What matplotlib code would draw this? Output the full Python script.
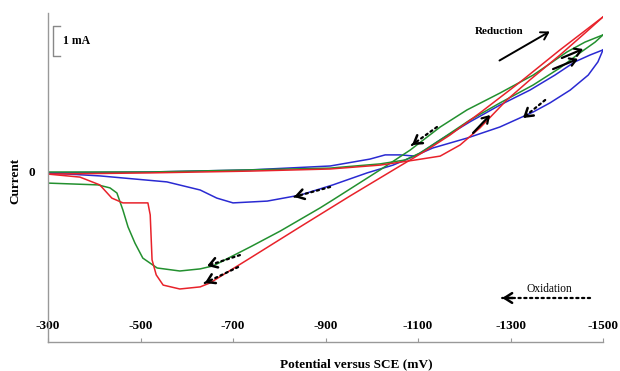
import matplotlib
matplotlib.use("Agg")
import matplotlib.pyplot as plt

# ---- data (potential in mV, current in mA) ----
red_fwd_E = [-300, -521, -737, -910, -1018, -1094, -1148, -1191, -1234, -1292, -1342, -1407, -1461, -1500]
red_fwd_I = [-0.07, -0.03, 0.03, 0.10, 0.23, 0.40, 0.53, 0.90, 1.47, 2.40, 3.07, 3.90, 4.63, 5.17]
red_rev_E = [-1500, -1407, -1321, -1234, -1169, -1126, -1094, -1061, -953, -845, -737, -650, -629, -585,
             -549, -534, -525, -521, -516, -462, -438, -412, -369, -300]
red_rev_I = [5.17, 4.07, 3.00, 1.97, 1.23, 0.80, 0.50, 0.20, -0.80, -1.83, -2.87, -3.70, -3.83, -3.90,
             -3.77, -3.43, -2.93, -1.43, -1.03, -1.03, -0.87, -0.43, -0.17, -0.07]

green_fwd_E = [-300, -521, -737, -910, -1018, -1072, -1104, -1148, -1212, -1277, -1349, -1407, -1450, -1483, -1500]
green_fwd_I = [0.0, 0.0, 0.07, 0.13, 0.27, 0.40, 0.63, 1.07, 1.73, 2.30, 2.90, 3.47, 3.97, 4.33, 4.57]
green_rev_E = [-1500, -1461, -1422, -1349, -1277, -1206, -1148, -1083, -1018, -916, -888, -802, -737, -657,
               -629, -585, -536, -505, -488, -473, -462, -449, -434, -408, -300]
green_rev_I = [4.57, 4.33, 4.00, 3.23, 2.63, 2.07, 1.50, 0.73, 0.07, -0.93, -1.20, -1.97, -2.50, -3.13,
               -3.23, -3.30, -3.20, -2.87, -2.37, -1.83, -1.27, -0.70, -0.53, -0.43, -0.37]

blue_fwd_E = [-300, -521, -737, -910, -996, -1029, -1061, -1094, -1115, -1148, -1212, -1277, -1342, -1396,
              -1439, -1472, -1500]
blue_fwd_I = [-0.03, 0.0, 0.07, 0.20, 0.43, 0.57, 0.57, 0.53, 0.73, 1.07, 1.67, 2.23, 2.73, 3.23,
              3.67, 3.90, 4.07]
blue_rev_E = [-1500, -1489, -1468, -1429, -1385, -1349, -1277, -1206, -1132, -1083, -1046, -990, -916, -845,
              -774, -700, -665, -629, -557, -412, -300]
blue_rev_I = [4.07, 3.67, 3.23, 2.73, 2.30, 2.00, 1.50, 1.13, 0.80, 0.47, 0.23, -0.03, -0.43, -0.77,
              -0.97, -1.03, -0.87, -0.60, -0.33, -0.13, -0.03]

x_ticks = [-300, -500, -700, -900, -1100, -1300, -1500]
x_tick_labels = ["-300", "-500", "-700", "-900", "-1100", "-1300", "-1500"]

RED = "#e8222a"
GREEN = "#23902f"
BLUE = "#2a2ad2"
SERIF = ["Liberation Serif", "DejaVu Serif"]

fig = plt.figure(figsize=(6.2, 3.71), dpi=100)
ax = fig.add_axes([48 / 620, 29 / 371, 555 / 620, 329 / 371])

lw = 1.1
ax.plot(blue_fwd_E, blue_fwd_I, color=BLUE, lw=lw)
ax.plot(blue_rev_E, blue_rev_I, color=BLUE, lw=lw)
ax.plot(green_fwd_E, green_fwd_I, color=GREEN, lw=lw)
ax.plot(green_rev_E, green_rev_I, color=GREEN, lw=lw)
ax.plot(red_fwd_E, red_fwd_I, color=RED, lw=lw)
ax.plot(red_rev_E, red_rev_I, color=RED, lw=lw)

ax.set_xlim(-300, -1500)
ax.set_ylim(-5.667, 5.3)

for s in ["top", "right"]:
    ax.spines[s].set_visible(False)
for s in ["left", "bottom"]:
    ax.spines[s].set_color("#999999")
    ax.spines[s].set_linewidth(1.0)

ax.set_xticks(x_ticks)
ax.set_xticklabels(x_tick_labels, family=SERIF, fontweight="bold", fontsize=9.5)
ax.tick_params(axis="x", direction="in", length=3, color="#999999", pad=-16)
ax.set_yticks([0])
ax.set_yticklabels(["0"], family=SERIF, fontweight="bold", fontsize=9.5)
ax.tick_params(axis="y", length=0, pad=9)

ax.set_xlabel("Potential versus SCE (mV)", family=SERIF, fontweight="bold", fontsize=9.5)
ax.xaxis.label.set_va("center")
ax.xaxis.set_label_coords(0.555, -0.067)
ax.set_ylabel("Current", family=SERIF, fontweight="bold", fontsize=9.5)
ax.yaxis.label.set_va("center")
ax.yaxis.set_label_coords(-0.0595, 0.489)

# scale bar
ax.plot([-326, -311, -311, -326], [4.87, 4.87, 3.87, 3.87], color="#888888", lw=1.0, clip_on=False)
ax.text(-332, 4.35, "1 mA", family=SERIF, fontweight="bold", fontsize=8.5, va="center", ha="left")

# legend-like annotations
ax.text(-1275, 4.67, "Reduction", family=SERIF, fontweight="bold", fontsize=8, ha="center", va="center")
ax.annotate("", xy=(-1390, 4.73), xytext=(-1271, 3.67),
            arrowprops=dict(arrowstyle="->,head_length=0.5,head_width=0.3", lw=1.4, color="black"))
ax.text(-1385, -3.9, "Oxidation", family=SERIF, fontsize=8.3, ha="center", va="center")

def dotted_arrow(tail, head):
    ax.annotate("", xy=head, xytext=tail,
                arrowprops=dict(arrowstyle="-", lw=1.6, linestyle=(0, (1, 1.6)), color="black",
                                shrinkA=0, shrinkB=0))
    hx, hy = head
    tx, ty = tail
    pre = (hx + (tx - hx) * 0.12, hy + (ty - hy) * 0.12)
    ax.annotate("", xy=head, xytext=pre,
                arrowprops=dict(arrowstyle="->,head_length=0.55,head_width=0.35", lw=1.8, color="black",
                                shrinkA=0, shrinkB=0))

def solid_arrow(tail, head):
    ax.annotate("", xy=head, xytext=tail,
                arrowprops=dict(arrowstyle="->,head_length=0.45,head_width=0.28", lw=1.6, color="black",
                                shrinkA=0, shrinkB=0))

dotted_arrow((-1472, -4.2), (-1282, -4.2))
dotted_arrow((-910, -0.5), (-832, -0.83))
dotted_arrow((-715, -2.77), (-644, -3.13))
dotted_arrow((-711, -3.17), (-639, -3.7))
dotted_arrow((-1141, 1.5), (-1087, 0.9))
dotted_arrow((-1375, 2.4), (-1327, 1.8))

solid_arrow((-1219, 1.3), (-1256, 1.9))
solid_arrow((-1392, 3.43), (-1446, 3.77))
solid_arrow((-1411, 3.8), (-1457, 4.1))

fig.savefig("out.png", dpi=100)
